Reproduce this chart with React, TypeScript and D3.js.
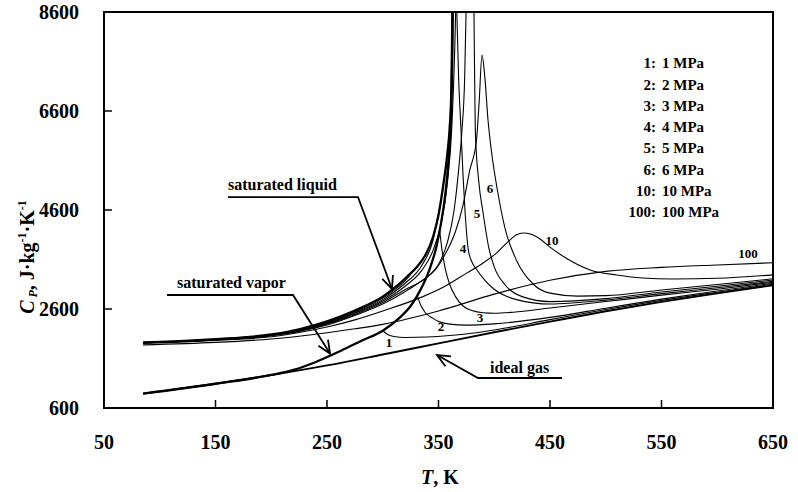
import React from "react";
import * as d3 from "d3";

type Pt = [number, number];

// Temperature axis (K) and isobaric heat capacity axis (J·kg⁻¹·K⁻¹)
const xTicks = [50, 150, 250, 350, 450, 550, 650];
const yTicks = [600, 2600, 4600, 6600, 8600];

// Ideal-gas heat capacity
const idealGas: Pt[] = [[85, 890], [100, 935], [150, 1090], [200, 1265], [250, 1460], [300, 1680], [350, 1905], [400, 2130], [450, 2345], [500, 2555], [550, 2745], [600, 2915], [650, 3080]];

// Saturation lines
const satLiquid: Pt[] = [[85, 1925], [100, 1935], [150, 1990], [200, 2085], [225, 2190], [250, 2350], [275, 2570], [300, 2850], [313, 3070], [323, 3280], [331, 3460], [338, 3680], [345, 4050], [350, 4500], [354, 5060], [358, 5750], [360, 6250], [361.5, 7000], [362.1, 7900], [362.4, 8700]];
const satVapor: Pt[] = [[85, 890], [150, 1090], [200, 1268], [220, 1370], [240, 1530], [260, 1730], [280, 1950], [300, 2160], [315, 2420], [325, 2660], [331, 2870], [337, 3130], [342, 3400], [348, 3850], [352, 4300], [356, 4900], [359, 5600], [361, 6400], [362.3, 7600], [362.9, 8700]];

// Subcritical isobars: liquid branch and vapor branch
const liq1: Pt[] = [[85, 1924], [150, 1988], [200, 2082], [225, 2185], [250, 2342], [275, 2560], [300, 2850]];
const vap1: Pt[] = [[300, 2160], [304, 2090], [310, 2045], [320, 2025], [340, 2035], [360, 2065], [380, 2110], [400, 2175], [450, 2385], [500, 2590], [550, 2775], [600, 2940], [650, 3100]];
const liq2: Pt[] = [[85, 1922], [150, 1986], [200, 2078], [225, 2178], [250, 2330], [275, 2543], [300, 2820], [320, 3170], [331, 3460]];
const vap2: Pt[] = [[331, 2870], [334, 2680], [338, 2530], [345, 2410], [351, 2340], [360, 2295], [375, 2275], [400, 2300], [450, 2430], [500, 2615], [550, 2800], [600, 2965], [650, 3120]];
const liq3: Pt[] = [[85, 1920], [150, 1984], [200, 2074], [225, 2171], [250, 2318], [275, 2526], [300, 2790], [320, 3120], [335, 3480], [345, 3980], [351, 4640]];
const vap3: Pt[] = [[351, 4190], [353, 3820], [356, 3420], [360, 3100], [365, 2860], [372, 2660], [380, 2570], [390, 2525], [400, 2515], [417, 2535], [450, 2620], [500, 2750], [550, 2880], [600, 3000], [650, 3140]];
const liq4: Pt[] = [[85, 1918], [150, 1982], [200, 2070], [225, 2164], [250, 2306], [275, 2510], [300, 2760], [320, 3060], [335, 3380], [345, 3780], [352, 4300], [358, 5150], [362, 6300], [364.5, 7800], [365.5, 8700]];
const vap4: Pt[] = [[366.3, 8700], [368, 7300], [370, 6300], [372, 5300], [374, 4500], [376.7, 3800], [380, 3550], [384.5, 3388], [392, 3170], [400, 3000], [420, 2790], [450, 2700], [500, 2780], [550, 2910], [600, 3030], [650, 3160]];

// Supercritical isobars
const p5: Pt[] = [[85, 1916], [150, 1980], [200, 2065], [225, 2156], [250, 2292], [275, 2490], [300, 2730], [320, 2990], [340, 3250], [350, 3500], [358, 3950], [364, 4600], [368, 5400], [371, 6200], [373.5, 7300], [374.7, 8600], [378, 13000], [381.8, 8600], [383, 6200], [386, 5200], [390, 4540], [395, 3850], [400, 3450], [410, 3080], [425, 2850], [450, 2750], [500, 2810], [550, 2945], [600, 3060], [650, 3185]];
const p6: Pt[] = [[85, 1914], [150, 1978], [200, 2060], [225, 2148], [250, 2278], [275, 2470], [300, 2700], [320, 2950], [335, 3170], [347, 3388], [357, 3750], [365, 4150], [372, 4700], [378, 5400], [384, 6000], [386.5, 6800], [389, 7731], [391.5, 7300], [394.4, 6418], [398, 5700], [402.5, 5044], [410, 4200], [420, 3580], [435, 3100], [450, 2920], [475, 2860], [500, 2870], [550, 2985], [600, 3095], [650, 3210]];
const p10: Pt[] = [[85, 1905], [150, 1965], [200, 2040], [225, 2125], [250, 2235], [275, 2380], [300, 2560], [336, 2850], [355, 3050], [375.6, 3330], [390, 3530], [402, 3730], [412, 3950], [420, 4100], [426, 4135], [433, 4110], [442, 4000], [450, 3850], [465, 3620], [486, 3388], [510, 3287], [533, 3226], [560, 3205], [600, 3220], [650, 3290]];
const p100: Pt[] = [[85, 1875], [150, 1925], [200, 1995], [225, 2050], [250, 2120], [275, 2200], [300, 2290], [350, 2560], [400, 2900], [450, 3180], [500, 3360], [550, 3440], [600, 3490], [650, 3535]];

// Isobar labels placed beside their curves (T, Cp)
const curveLabels: { text: string; at: Pt }[] = [
  { text: "1", at: [305.6, 1933] },
  { text: "2", at: [352.2, 2256] },
  { text: "3", at: [387.2, 2438] },
  { text: "4", at: [372, 3832] },
  { text: "5", at: [384.5, 4539] },
  { text: "6", at: [396.2, 5044] },
  { text: "10", at: [451.8, 3994] },
  { text: "100", at: [627.6, 3731] },
];

const legendKeys = ["1:", "2:", "3:", "4:", "5:", "6:", "10:", "100:"];
const legendNames = ["1 MPa", "2 MPa", "3 MPa", "4 MPa", "5 MPa", "6 MPa", "10 MPa", "100 MPa"];

// Callouts: text anchor, leader line, arrow tip, all in (T, Cp)
const callouts: { text: string; textAt: Pt; path: Pt[] }[] = [
  { text: "saturated liquid", textAt: [161.2, 5000], path: [[161.2, 4862], [277.8, 4862], [308.3, 3004]] },
  { text: "saturated vapor", textAt: [115.5, 3024], path: [[106.5, 2883], [219.5, 2883], [252.7, 1700]] },
  { text: "ideal gas", textAt: [396.2, 1307], path: [[460.8, 1206], [385.4, 1206], [348.7, 1671]] },
];

const W = 798;
const H = 492;
const M = { left: 104, right: 773, top: 12, bottom: 408 };
const FONT = "'Liberation Serif', 'Times New Roman', serif";

export default function App() {
  const x = d3.scaleLinear().domain([50, 650]).range([M.left, M.right]);
  const y = d3.scaleLinear().domain([600, 8600]).range([M.bottom, M.top]);
  const line = d3
    .line<Pt>()
    .x((d) => x(d[0]))
    .y((d) => y(d[1]))
    .curve(d3.curveMonotoneX);
  const straight = d3
    .line<Pt>()
    .x((d) => x(d[0]))
    .y((d) => y(d[1]));

  const thin = [liq1, vap1, liq2, vap2, liq3, vap3, liq4, vap4, p5, p6, p10, p100];

  const arrowHead = (pts: Pt[]) => {
    const a = pts[pts.length - 2];
    const b = pts[pts.length - 1];
    const ax = x(a[0]), ay = y(a[1]);
    const bx = x(b[0]), by = y(b[1]);
    const ang = Math.atan2(by - ay, bx - ax);
    const len = 14;
    const spread = 0.42;
    const p1 = [bx - len * Math.cos(ang - spread), by - len * Math.sin(ang - spread)];
    const p2 = [bx - len * Math.cos(ang + spread), by - len * Math.sin(ang + spread)];
    return `M${p1[0]},${p1[1]}L${bx},${by}L${p2[0]},${p2[1]}`;
  };

  return (
    <svg
      width={W}
      height={H}
      style={{ position: "absolute", left: 0, top: 0, background: "#fff" }}
      fontFamily={FONT}
      fontWeight="bold"
    >
      <defs>
        <clipPath id="plot-area">
          <rect x={M.left} y={M.top} width={M.right - M.left} height={M.bottom - M.top} />
        </clipPath>
      </defs>
      <rect x={0} y={0} width={W} height={H} fill="#fff" />

      <g clipPath="url(#plot-area)" fill="none" stroke="#000" strokeLinejoin="round">
        {thin.map((d, i) => (
          <path key={i} d={line(d) || ""} strokeWidth={1.1} />
        ))}
        <path d={line(idealGas) || ""} strokeWidth={1.9} />
        <path d={line(satVapor) || ""} strokeWidth={2.3} />
        <path d={line(satLiquid) || ""} strokeWidth={2.3} />
      </g>

      {/* frame */}
      <rect
        x={M.left}
        y={M.top}
        width={M.right - M.left}
        height={M.bottom - M.top}
        fill="none"
        stroke="#000"
        strokeWidth={2}
      />

      {/* y ticks */}
      {yTicks.map((t) => (
        <g key={t}>
          <line x1={M.left} x2={M.left + 8} y1={y(t)} y2={y(t)} stroke="#000" strokeWidth={1.5} />
          <text x={79} y={y(t)} dy="0.35em" textAnchor="end" fontSize={20}>
            {t}
          </text>
        </g>
      ))}

      {/* x ticks */}
      {xTicks.map((t) => (
        <g key={t}>
          <line x1={x(t)} x2={x(t)} y1={M.bottom} y2={M.bottom - 8} stroke="#000" strokeWidth={1.5} />
          <text x={x(t)} y={442} dy="0.35em" textAnchor="middle" fontSize={20}>
            {t}
          </text>
        </g>
      ))}

      {/* axis titles */}
      <text x={440} y={477} dy="0.35em" textAnchor="middle" fontSize={20}>
        <tspan fontStyle="italic">T</tspan>
        <tspan>, K</tspan>
      </text>
      <text transform="translate(27,257) rotate(-90)" textAnchor="middle" dy="0.35em" fontSize={20}>
        <tspan fontStyle="italic">C</tspan>
        <tspan fontStyle="italic" fontSize={12} dy={3}> P</tspan>
        <tspan dy={-3}>, J·kg</tspan>
        <tspan fontSize={12} dy={-8}>-1</tspan>
        <tspan dy={8}>·K</tspan>
        <tspan fontSize={12} dy={-8}>-1</tspan>
      </text>

      {/* isobar labels */}
      {curveLabels.map((l) => (
        <text key={l.text} x={x(l.at[0])} y={y(l.at[1])} dy="0.35em" textAnchor="middle" fontSize={13}>
          {l.text}
        </text>
      ))}

      {/* legend */}
      {legendKeys.map((k, i) => (
        <g key={k}>
          <text x={656} y={63 + i * 21.3} dy="0.35em" textAnchor="end" fontSize={15}>
            {k}
          </text>
          <text x={662} y={63 + i * 21.3} dy="0.35em" fontSize={15}>
            {legendNames[i]}
          </text>
        </g>
      ))}

      {/* callouts */}
      {callouts.map((c) => (
        <g key={c.text}>
          <text x={x(c.textAt[0])} y={y(c.textAt[1])} fontSize={16}>
            {c.text}
          </text>
          <path d={straight(c.path) || ""} fill="none" stroke="#000" strokeWidth={1.8} />
          <path d={arrowHead(c.path)} fill="none" stroke="#000" strokeWidth={1.8} />
        </g>
      ))}
    </svg>
  );
}
